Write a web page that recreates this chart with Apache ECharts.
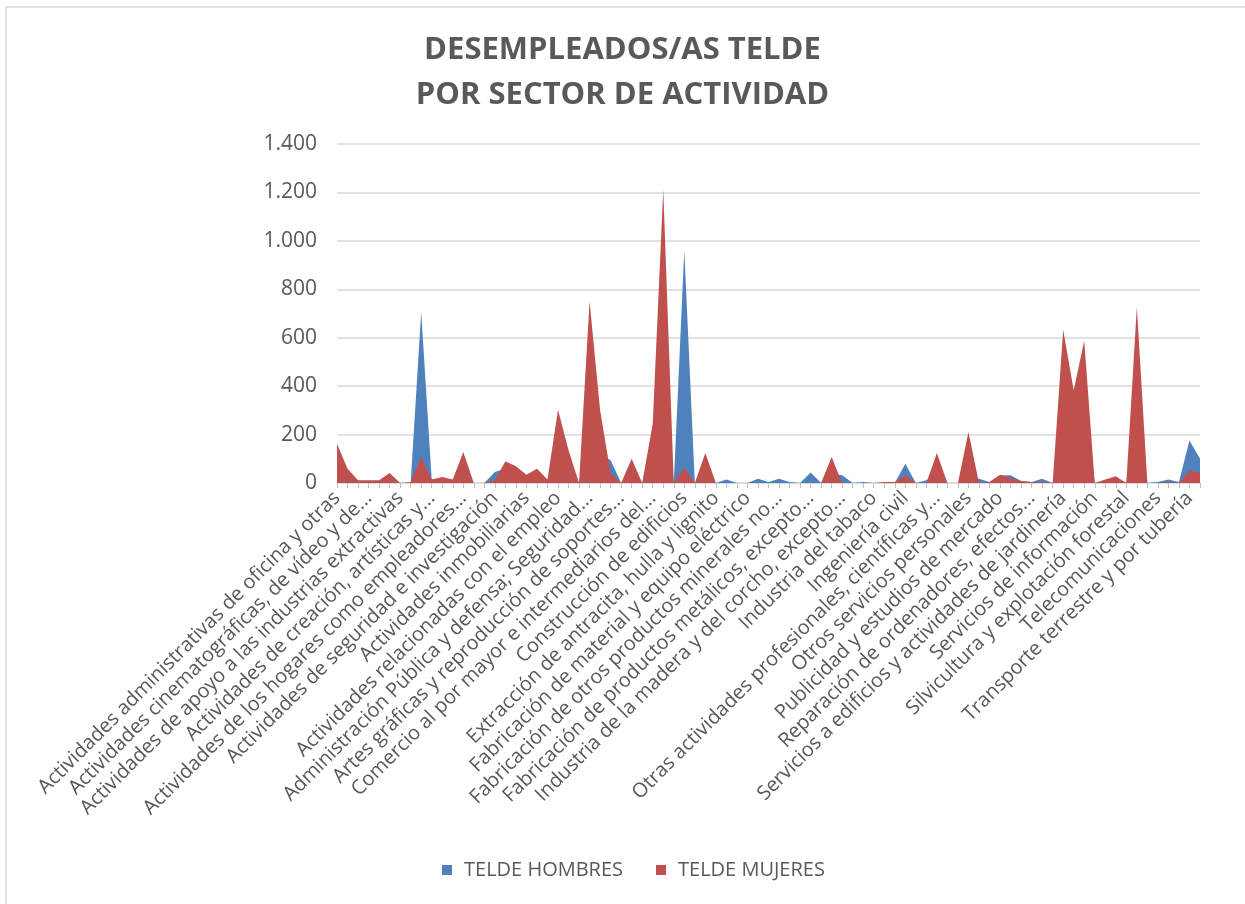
<!DOCTYPE html>
<html>
<head>
<meta charset="utf-8">
<title>Desempleados/as Telde por sector de actividad</title>
<script src="https://cdn.jsdelivr.net/npm/echarts@6/dist/echarts.min.js"></script>
<style>
	html, body { margin: 0; padding: 0; background: #fff; }
	#chart { width: 1245px; height: 904px; }
</style>
</head>
<body>
<div id="chart"></div>
<script>
// sectores (orden alfabético, como en la hoja original)
var categories = [
	'Actividades administrativas de oficina y otras actividades auxiliares a las empresas',
	'Actividades asociativas',
	'Actividades auxiliares a los servicios financieros y a los seguros',
	'Actividades cinematográficas, de vídeo y de programas de televisión',
	'Actividades de agencias de viajes y operadores turísticos',
	'Actividades de alquiler',
	'Actividades de apoyo a las industrias extractivas',
	'Actividades de bibliotecas, archivos, museos y otras actividades culturales',
	'Actividades de construcción especializada',
	'Actividades de creación, artísticas y espectáculos',
	'Actividades de juegos de azar y apuestas',
	'Actividades de las sedes centrales; consultoría de gestión empresarial',
	'Actividades de los hogares como empleadores de personal doméstico',
	'Actividades de los hogares como productores de bienes y servicios para uso propio',
	'Actividades de organizaciones y organismos extraterritoriales',
	'Actividades de seguridad e investigación',
	'Actividades de servicios sociales sin alojamiento',
	'Actividades deportivas, recreativas y de entretenimiento',
	'Actividades inmobiliarias',
	'Actividades jurídicas y de contabilidad',
	'Actividades postales y de correos',
	'Actividades relacionadas con el empleo',
	'Actividades sanitarias',
	'Actividades veterinarias',
	'Administración Pública y defensa; Seguridad Social obligatoria',
	'Agricultura, ganadería, caza y servicios relacionados',
	'Almacenamiento y actividades anexas al transporte',
	'Artes gráficas y reproducción de soportes grabados',
	'Asistencia en establecimientos residenciales',
	'Captación, depuración y distribución de agua',
	'Comercio al por mayor e intermediarios del comercio',
	'Comercio al por menor',
	'Confección de prendas de vestir',
	'Construcción de edificios',
	'Edición',
	'Educación',
	'Extracción de antracita, hulla y lignito',
	'Fabricación de bebidas',
	'Fabricación de maquinaria y equipo n.c.o.p.',
	'Fabricación de material y equipo eléctrico',
	'Fabricación de muebles',
	'Fabricación de otro material de transporte',
	'Fabricación de otros productos minerales no metálicos',
	'Fabricación de productos de caucho y plásticos',
	'Fabricación de productos informáticos, electrónicos y ópticos',
	'Fabricación de productos metálicos, excepto maquinaria y equipo',
	'Fabricación de vehículos de motor, remolques y semirremolques',
	'Industria de la alimentación',
	'Industria de la madera y del corcho, excepto muebles',
	'Industria del cuero y del calzado',
	'Industria del papel',
	'Industria del tabaco',
	'Industria química',
	'Industria textil',
	'Ingeniería civil',
	'Investigación y desarrollo',
	'Metalurgia',
	'Otras actividades profesionales, científicas y técnicas',
	'Otras industrias extractivas',
	'Otras industrias manufactureras',
	'Otros servicios personales',
	'Pesca y acuicultura',
	'Programación y emisión de radio y televisión',
	'Publicidad y estudios de mercado',
	'Recogida y tratamiento de aguas residuales',
	'Recogida, tratamiento y eliminación de residuos',
	'Reparación de ordenadores, efectos personales y artículos de uso doméstico',
	'Reparación e instalación de maquinaria y equipo',
	'Seguros, reaseguros y fondos de pensiones',
	'Servicios a edificios y actividades de jardinería',
	'Servicios de alojamiento',
	'Servicios de comidas y bebidas',
	'Servicios de información',
	'Servicios financieros, excepto seguros y fondos de pensiones',
	'Servicios técnicos de arquitectura e ingeniería',
	'Silvicultura y explotación forestal',
	'Sin empleo anterior',
	'Suministro de energía eléctrica, gas, vapor y aire acondicionado',
	'Telecomunicaciones',
	'Transporte aéreo',
	'Transporte marítimo y por vías navegables interiores',
	'Transporte terrestre y por tubería',
	'Venta y reparación de vehículos de motor y motocicletas'
];

// etiquetas visibles del eje (una de cada tres, recortadas como en el original)
var tickLabels = [
	'Actividades administrativas de oficina y otras',
	'Actividades cinematográficas, de vídeo y de...',
	'Actividades de apoyo a las industrias extractivas',
	'Actividades de creación, artísticas y...',
	'Actividades de los hogares como empleadores...',
	'Actividades de seguridad e investigación',
	'Actividades inmobiliarias',
	'Actividades relacionadas con el empleo',
	'Administración Pública y defensa; Seguridad...',
	'Artes gráficas y reproducción de soportes...',
	'Comercio al por mayor e intermediarios del...',
	'Construcción de edificios',
	'Extracción de antracita, hulla y lignito',
	'Fabricación de material y equipo eléctrico',
	'Fabricación de otros productos minerales no...',
	'Fabricación de productos metálicos, excepto...',
	'Industria de la madera y del corcho, excepto...',
	'Industria del tabaco',
	'Ingeniería civil',
	'Otras actividades profesionales, científicas y...',
	'Otros servicios personales',
	'Publicidad y estudios de mercado',
	'Reparación de ordenadores, efectos...',
	'Servicios a edificios y actividades de jardinería',
	'Servicios de información',
	'Silvicultura y explotación forestal',
	'Telecomunicaciones',
	'Transporte terrestre y por tubería'
];

var hombres = [
	90, 30, 0, 0, 0, 15, 0, 0, 706, 14,
	15, 10, 10, 0, 0, 45, 60, 40, 20, 25,
	8, 110, 40, 0, 300, 120, 94, 0, 20, 0,
	180, 420, 0, 961, 0, 30, 0, 14, 0, 0,
	18, 4, 18, 4, 0, 43, 0, 40, 32, 0,
	4, 0, 0, 0, 80, 0, 11, 40, 0, 0,
	30, 18, 4, 32, 32, 8, 4, 18, 0, 200,
	150, 350, 0, 8, 20, 0, 350, 0, 4, 14,
	4, 176, 100
];

var mujeres = [
	162, 59, 11, 11, 11, 41, 0, 4, 107, 14,
	25, 14, 128, 0, 0, 11, 90, 69, 34, 59,
	14, 303, 135, 0, 750, 300, 39, 0, 100, 0,
	245, 1212, 0, 63, 0, 124, 0, 0, 0, 0,
	0, 0, 0, 0, 0, 0, 0, 107, 0, 0,
	0, 0, 4, 4, 32, 0, 0, 124, 0, 0,
	211, 0, 4, 34, 21, 8, 4, 4, 0, 633,
	383, 587, 0, 14, 28, 0, 727, 0, 0, 4,
	0, 52, 41
];

var yTicks = { min: 0, max: 1400, interval: 200 };

var textColor = '#595959';
var fontName = 'Open Sans';

var chart = echarts.init(document.getElementById('chart'));

var option = {
	backgroundColor: '#fff',
	animation: false,
	title: {
		text: 'DESEMPLEADOS/AS TELDE\nPOR SECTOR DE ACTIVIDAD',
		left: 'center',
		top: 23,
		textStyle: {
			color: textColor,
			fontFamily: fontName,
			fontWeight: 'bold',
			fontSize: 31,
			lineHeight: 45
		}
	},
	legend: {
		bottom: 19,
		left: 437,
		icon: 'rect',
		itemWidth: 10,
		itemHeight: 10,
		itemGap: 33,
		textStyle: {
			color: textColor,
			fontFamily: fontName,
			fontSize: 20,
			padding: [0, 0, 0, 7]
		},
		data: ['TELDE HOMBRES', 'TELDE MUJERES']
	},
	grid: {
		left: 337,
		right: 45,
		top: 144,
		bottom: 421,
		containLabel: false
	},
	graphic: [{
		type: 'rect',
		shape: { x: 6, y: 7, width: 1300, height: 1000 },
		style: { fill: 'none', stroke: '#d9d9d9', lineWidth: 1.5 },
		silent: true
	}],
	xAxis: {
		type: 'category',
		data: categories,
		boundaryGap: false,
		axisLine: { show: true, lineStyle: { color: '#d9d9d9', width: 1.5 } },
		axisTick: { show: true, interval: 0, length: 5, lineStyle: { color: '#bfbfbf' } },
		axisLabel: {
			interval: 2,
			rotate: 45,
			margin: 12,
			color: textColor,
			fontFamily: fontName,
			fontSize: 20,
			formatter: function(value, index) {
				return tickLabels[Math.floor(index / 3)];
			}
		}
	},
	yAxis: {
		type: 'value',
		min: yTicks.min,
		max: yTicks.max,
		interval: yTicks.interval,
		axisLine: { show: false },
		axisTick: { show: false },
		splitLine: { lineStyle: { color: '#d9d9d9', width: 1.5 } },
		axisLabel: {
			margin: 20,
			color: textColor,
			fontFamily: fontName,
			fontSize: 21,
			formatter: function(v) {
				return String(v).replace(/\B(?=(\d{3})+(?!\d))/g, '.');
			}
		}
	},
	series: [{
		name: 'TELDE HOMBRES',
		type: 'line',
		data: hombres,
		symbol: 'none',
		lineStyle: { width: 0 },
		areaStyle: { color: '#4f81bd', opacity: 1 },
		itemStyle: { color: '#4f81bd' },
		z: 2
	}, {
		name: 'TELDE MUJERES',
		type: 'line',
		data: mujeres,
		symbol: 'none',
		lineStyle: { width: 0 },
		areaStyle: { color: '#c0504d', opacity: 1 },
		itemStyle: { color: '#c0504d' },
		z: 3
	}]
};

chart.setOption(option);
</script>
</body>
</html>
